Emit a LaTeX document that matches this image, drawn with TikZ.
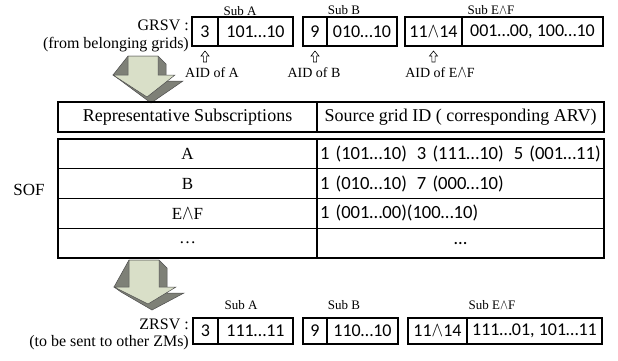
\documentclass[tikz,border=0pt]{standalone}
\usepackage{fontspec}
\usepackage{graphicx}
\setmainfont{Liberation Serif}
\newfontfamily\calfont{Carlito}
\usetikzlibrary{positioning}

\definecolor{arrowlight}{RGB}{217,223,200}
\definecolor{arrowdark}{RGB}{126,128,119}

\newcommand{\andsym}{\scalebox{1}[1.2]{$\wedge$}}

% small hollow arrow under an AID cell
\newcommand{\aidarrow}[1]{%
  \draw[fill=white, line width=0.6pt] (#1) -- ++(4,5) -- ++(-2.4,0) -- ++(0,6)
    -- ++(-3.2,0) -- ++(0,-6) -- ++(-2.4,0) -- cycle;}

% 3d block arrow: x, y of shaft corner, shaft length, head depth
\newcommand{\blockarrow}[4]{%
  \begin{scope}[shift={(#1,#2)}]
    \filldraw[fill=arrowdark, draw=black!70, line width=0.5pt] (0,0) -- (30,0) -- (38,8)
      -- (38,#3+6) -- (55,#3+6) -- (23,#3+#4+6) -- (-8,#3+5) -- (-15,#3) -- cycle;
    \filldraw[fill=arrowlight, draw=black!70, line width=0.5pt] (0,0) -- (30,0) -- (30,#3)
      -- (47,#3) -- (19,#3+#4) -- (-15,#3) -- (0,#3) -- cycle;
  \end{scope}}

\tikzset{
  bitcell/.style={draw, line width=1.1pt, inner sep=0pt, outer sep=0pt,
    font=\calfont\fontsize{18}{18}\selectfont},
  sublabel/.style={inner sep=0pt, anchor=base, font=\fontsize{13}{13}\selectfont},
  aidlabel/.style={inner sep=0pt, anchor=base, font=\fontsize{14}{14}\selectfont},
  veclabel/.style={inner sep=0pt, anchor=base east, font=\fontsize{16}{16}\selectfont},
  subcell/.style={draw, line width=1.1pt, inner sep=0pt, outer sep=0pt,
    minimum width=259pt, minimum height=29.75pt, font=\fontsize{17}{17}\selectfont},
  srccell/.style={draw, line width=1.1pt, inner ysep=0pt, inner xsep=3pt, outer sep=0pt,
    text width=281pt, align=left, minimum height=29.75pt,
    font=\calfont\fontsize{18.6}{18.6}\selectfont},
  headcell/.style={draw, line width=1.1pt, inner sep=0pt, outer sep=0pt,
    minimum height=30pt, font=\fontsize{18}{18}\selectfont}
}

\begin{document}
\begin{tikzpicture}[x=1pt, y=-1pt]
  \useasboundingbox (0,0) rectangle (618,360);

  % GRSV
  \node[veclabel] (grsv) at (189,30) {GRSV :};
  \node[veclabel] (grsvnote) at (189,48) {(from belonging grids)};
  \node[bitcell, minimum width=26pt, minimum height=29pt, anchor=north west] (gaid) at (192,17) {3};
  \node[bitcell, minimum width=75pt, minimum height=29pt, right=0pt of gaid] (gabits) {101…10};
  \node[bitcell, minimum width=24pt, minimum height=29pt, anchor=north west] (gbid) at (303,17) {9};
  \node[bitcell, minimum width=70pt, minimum height=29pt, right=0pt of gbid] (gbbits) {010…10};
  \node[bitcell, minimum width=57pt, minimum height=29pt, anchor=north west] (geid) at (405,17) {11\andsym14};
  \node[bitcell, minimum width=141pt, minimum height=29pt, right=0pt of geid] (gebits) {001…00, 100…10};
  \node[sublabel] (gsuba) at (240,15) {Sub A};
  \node[sublabel] (gsubb) at (344,14) {Sub B};
  \node[sublabel] (gsube) at (491,14) {Sub E\andsym F};

  \aidarrow{[yshift=-5pt]gaid.south}
  \aidarrow{[yshift=-5pt]gbid.south}
  \aidarrow{[yshift=-5pt]geid.south}
  \node[aidlabel] (aida) at (212,77) {AID of A};
  \node[aidlabel] (aidb) at (314,77) {AID of B};
  \node[aidlabel] (aide) at (440,77) {AID of E\andsym F};

  \blockarrow{128}{56}{19}{22}

  % SOF table
  \node[headcell, minimum width=259pt, anchor=north west] (hrep) at (58,102) {Representative Subscriptions};
  \node[headcell, minimum width=287pt, right=0pt of hrep] (hsrc) {Source grid ID ( corresponding ARV)};

  \node[subcell, anchor=north west] (ra) at (58,139) {A};
  \node[srccell, right=0pt of ra] (rasrc) {1 (101…10)\hspace{10pt}3 (111…10)\hspace{10pt}5 (001…11)};
  \node[subcell, below=0pt of ra] (rb) {B};
  \node[srccell, right=0pt of rb] (rbsrc) {1 (010…10)\hspace{10pt}7 (000…10)};
  \node[subcell, below=0pt of rb] (re) {E\andsym F};
  \node[srccell, right=0pt of re] (resrc) {1 (001…00)(100…10)};
  \node[subcell, below=0pt of re] (rdots) {…};
  \node[srccell, align=center, right=0pt of rdots] (rdotssrc) {…};
  \node[font=\fontsize{17}{17}\selectfont] (sof) at (29,190) {SOF};

  \blockarrow{129}{260}{27}{17}

  % ZRSV
  \node[veclabel] (zrsv) at (189,329) {ZRSV :};
  \node[veclabel] (zrsvnote) at (189,346) {(to be sent to other ZMs)};
  \node[bitcell, minimum width=25pt, minimum height=26pt, anchor=north west] (zaid) at (193,318) {3};
  \node[bitcell, minimum width=75pt, minimum height=26pt, right=0pt of zaid] (zabits) {111…11};
  \node[bitcell, minimum width=24pt, minimum height=26pt, anchor=north west] (zbid) at (303,318) {9};
  \node[bitcell, minimum width=71pt, minimum height=26pt, right=0pt of zbid] (zbbits) {110…10};
  \node[bitcell, minimum width=59pt, minimum height=26pt, anchor=north west] (zeid) at (408,318) {11\andsym14};
  \node[bitcell, minimum width=135pt, minimum height=26pt, right=0pt of zeid] (zebits) {111…01, 101…11};
  \node[sublabel] (zsuba) at (241,309) {Sub A};
  \node[sublabel] (zsubb) at (344,309) {Sub B};
  \node[sublabel] (zsube) at (492,309) {Sub E\andsym F};
\end{tikzpicture}
\end{document}
